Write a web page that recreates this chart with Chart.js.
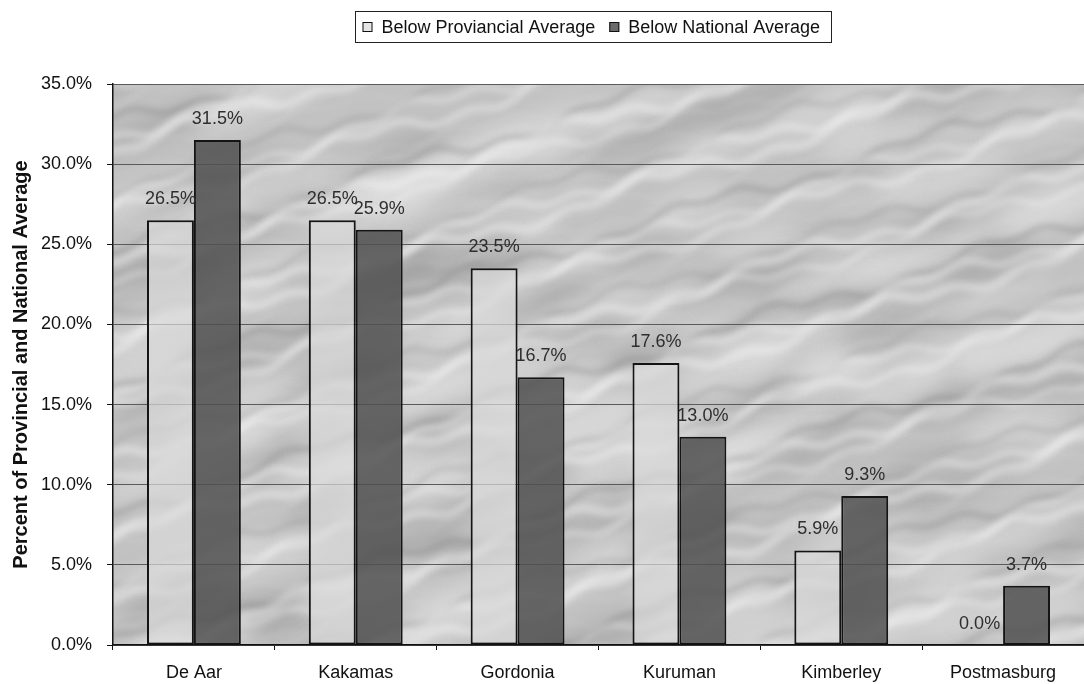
<!DOCTYPE html>
<html>
<head>
<meta charset="utf-8">
<script src="https://cdn.jsdelivr.net/npm/chart.js@4.4.1/dist/chart.umd.min.js"></script>
<style>
  html, body { margin: 0; padding: 0; background: #ffffff; }
  #wrap { position: relative; width: 1084px; height: 684px; }
</style>
</head>
<body>
<div id="wrap"><canvas id="chart" width="1084" height="684"></canvas></div>
<script>
// Towns and the share of households below each average (percent)
const towns = ['De Aar', 'Kakamas', 'Gordonia', 'Kuruman', 'Kimberley', 'Postmasburg'];
const belowProvincial = [26.5, 26.5, 23.5, 17.6, 5.9, 0.0];
const belowNational = [31.5, 25.9, 16.7, 13.0, 9.3, 3.7];
const seriesNames = ['Below Proviancial Average', 'Below National Average'];
const yTicks = [0, 5, 10, 15, 20, 25, 30, 35];

const FONT = '"Liberation Sans", Arial, sans-serif';
const fmt = v => v.toFixed(1) + '%';

// Streaky grey backdrop for the plot area
let textureCache = null;
function buildTexture(w, h) {
  const c = document.createElement('canvas');
  c.width = w; c.height = h;
  const g = c.getContext('2d');
  g.fillStyle = '#c2c2c2';
  g.fillRect(0, 0, w, h);
  // soft blotches
  g.filter = 'blur(10px)';
  for (let i = 0; i < 160; i++) {
    const x = (i * 379) % w;
    const y = (i * 211 + (i * i * 17) % 97) % h;
    g.fillStyle = (i % 3 === 0) ? 'rgba(140,140,140,0.35)' : 'rgba(235,235,235,0.38)';
    g.beginPath();
    g.ellipse(x, y, 40 + (i * 13) % 50, 10 + (i * 7) % 12, -0.35, 0, Math.PI * 2);
    g.fill();
  }
  // diagonal streaks
  g.filter = 'blur(3px)';
  for (let k = -30; k < 90; k++) {
    const y0 = k * 13;
    g.beginPath();
    for (let x = -20; x <= w + 20; x += 6) {
      const y = y0 - x * 0.3 + 7 * Math.sin(x / 37 + k * 1.7) + 4 * Math.sin(x / 11 + k);
      if (x === -20) g.moveTo(x, y); else g.lineTo(x, y);
    }
    const m = ((k * 7) % 5 + 5) % 5;
    if (m === 0 || m === 3) {
      g.strokeStyle = 'rgba(245,245,245,0.42)';
      g.lineWidth = 5 + (k % 3 + 3) % 3 * 2;
    } else if (m === 1) {
      g.strokeStyle = 'rgba(110,110,110,0.32)';
      g.lineWidth = 3 + (k % 2 + 2) % 2 * 2;
    } else {
      g.strokeStyle = 'rgba(215,215,215,0.3)';
      g.lineWidth = 3;
    }
    g.stroke();
  }
  g.filter = 'none';
  return c;
}

const plotBackdrop = {
  id: 'plotBackdrop',
  beforeDraw(chart) {
    const a = chart.chartArea;
    const w = Math.round(a.right - a.left), h = Math.round(a.bottom - a.top);
    if (!textureCache || textureCache.width !== w || textureCache.height !== h) {
      textureCache = buildTexture(w, h);
    }
    chart.ctx.drawImage(textureCache, a.left, a.top);
  }
};

// Percent labels above every bar
const valueLabels = {
  id: 'valueLabels',
  afterDatasetsDraw(chart) {
    const ctx = chart.ctx;
    ctx.save();
    ctx.font = '18px ' + FONT;
    ctx.fillStyle = '#2e2e2e';
    ctx.textAlign = 'center';
    ctx.textBaseline = 'alphabetic';
    chart.data.datasets.forEach((ds, i) => {
      chart.getDatasetMeta(i).data.forEach((bar, j) => {
        ctx.fillText(fmt(ds.data[j]), bar.x, bar.y - 16);
      });
    });
    ctx.restore();
  }
};

// Boxed legend row above the plot
const boxedLegend = {
  id: 'boxedLegend',
  afterDraw(chart) {
    const ctx = chart.ctx;
    const a = chart.chartArea;
    ctx.save();
    ctx.font = '18px ' + FONT;
    const sw = 10, gapA = 9, gapB = 14, padL = 7, padR = 11;
    const items = chart.data.datasets.map(ds => ({
      label: ds.label, fill: ds.backgroundColor, w: ctx.measureText(ds.label).width
    }));
    const total = items.reduce((s, it) => s + sw + gapA + it.w, 0) + gapB * (items.length - 1);
    const boxW = Math.round(total + padL + padR);
    const cx = (a.left + a.right) / 2 - 5.5;
    const bx = Math.round(cx - boxW / 2) + 0.5, by = 11.5, bh = 31;
    ctx.fillStyle = '#ffffff';
    ctx.fillRect(bx, by, boxW, bh);
    ctx.strokeStyle = '#222';
    ctx.lineWidth = 1;
    ctx.strokeRect(bx, by, boxW, bh);
    let x = bx + padL;
    const midY = by + bh / 2;
    items.forEach(it => {
      ctx.fillStyle = it.fill;
      ctx.fillRect(x, midY - sw / 2, sw, sw);
      ctx.strokeStyle = '#111';
      ctx.strokeRect(x + 0.5, midY - sw / 2 + 0.5, sw - 1, sw - 1);
      x += sw + gapA;
      ctx.fillStyle = '#111';
      ctx.textBaseline = 'middle';
      ctx.fillText(it.label, x, midY + 1);
      x += it.w + gapB;
    });
    ctx.restore();
  }
};

new Chart(document.getElementById('chart'), {
  type: 'bar',
  data: {
    labels: towns,
    datasets: [
      {
        label: seriesNames[0],
        data: belowProvincial,
        backgroundColor: 'rgba(218,218,218,0.7)',
        borderColor: '#141414',
        borderWidth: 2,
        borderSkipped: false
      },
      {
        label: seriesNames[1],
        data: belowNational,
        backgroundColor: 'rgba(80,80,80,0.85)',
        borderColor: '#141414',
        borderWidth: 2,
        borderSkipped: false
      }
    ]
  },
  options: {
    responsive: false,
    animation: false,
    devicePixelRatio: 1,
    layout: { padding: { top: 84, right: 0, left: 9, bottom: 0 } },
    plugins: {
      legend: { display: false },
      tooltip: { enabled: false }
    },
    datasets: {
      bar: { categoryPercentage: 0.58, barPercentage: 1.0 }
    },
    scales: {
      x: {
        offset: true,
        afterFit(scale) { scale.height = 39; },
        grid: {
          offset: true,
          drawOnChartArea: false,
          drawTicks: true,
          tickLength: 5,
          color: '#111'
        },
        border: { display: true, color: '#111', width: 1.5 },
        ticks: { color: '#111', font: { family: FONT, size: 18 }, padding: 12, maxRotation: 0 }
      },
      y: {
        min: 0,
        max: 35,
        afterFit(scale) { scale.width = 104; },
        afterBuildTicks(scale) { scale.ticks = yTicks.map(v => ({ value: v })); },
        grid: {
          color: '#5a5a5a',
          lineWidth: 1,
          drawTicks: true,
          tickLength: 6,
          tickColor: '#111'
        },
        border: { display: true, color: '#111', width: 1.5 },
        ticks: {
          color: '#111',
          font: { family: FONT, size: 18 },
          padding: 15,
          callback: v => fmt(v)
        },
        title: {
          display: true,
          text: 'Percent of Provincial and National Average',
          color: '#111',
          font: { family: FONT, size: 20, weight: 'bold' },
          padding: { top: 0, bottom: 8 }
        }
      }
    }
  },
  plugins: [plotBackdrop, valueLabels, boxedLegend]
});
</script>
</body>
</html>
